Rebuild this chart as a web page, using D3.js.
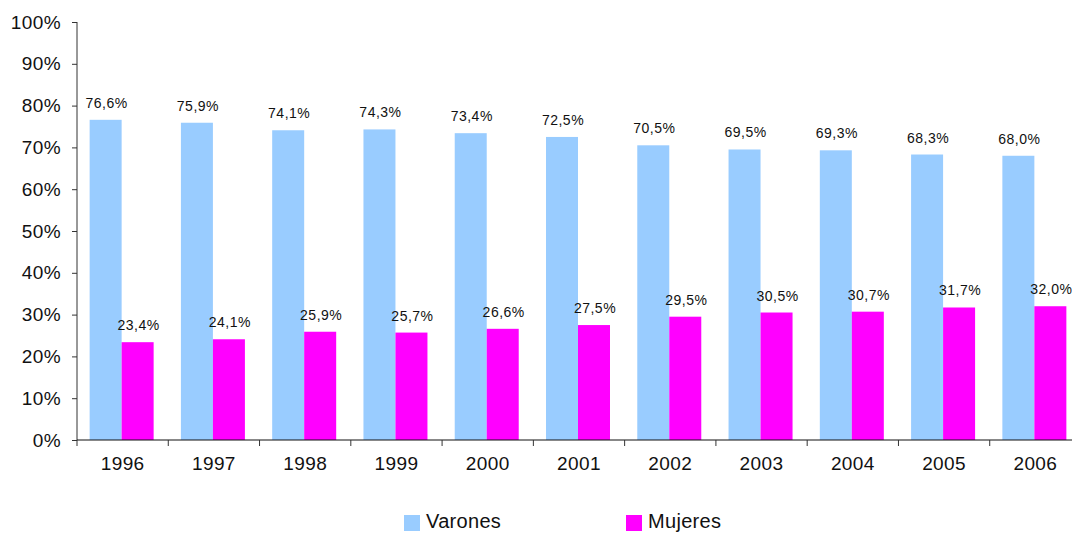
<!DOCTYPE html>
<html>
<head>
<meta charset="utf-8">
<script src="https://cdn.jsdelivr.net/npm/d3@7"></script>
<style>
  body { margin: 0; background: #fff; }
  text { font-family: "Liberation Sans", Arial, sans-serif; fill: #111; }
</style>
</head>
<body>
<div class="chart"></div>
<script>
var years = ["1996", "1997", "1998", "1999", "2000", "2001", "2002", "2003", "2004", "2005", "2006"];
var varones = [76.6, 75.9, 74.1, 74.3, 73.4, 72.5, 70.5, 69.5, 69.3, 68.3, 68.0];
var mujeres = [23.4, 24.1, 25.9, 25.7, 26.6, 27.5, 29.5, 30.5, 30.7, 31.7, 32.0];
var yTicks = [0, 10, 20, 30, 40, 50, 60, 70, 80, 90, 100];
var seriesNames = ["Varones", "Mujeres"];
var seriesColors = ["#99CCFF", "#FF00FF"];

var svgWidth = 1072;
var svgHeight = 533;

var margin = { top: 22, right: -9, bottom: 93, left: 77 };
var width = svgWidth - margin.left - margin.right;
var height = svgHeight - margin.top - margin.bottom;

var svg = d3.select(".chart")
    .append("svg")
    .attr("width", svgWidth)
    .attr("height", svgHeight);

var chartGroup = svg.append("g")
    .attr("transform", `translate(${margin.left}, ${margin.top})`);

var locale = d3.formatLocale({ decimal: ",", thousands: ".", grouping: [3], currency: ["", "€"] });
var fmt = locale.format(".1f");

// scales
var xScale = d3.scaleBand()
    .domain(years)
    .range([0, width]);

var xInner = d3.scaleBand()
    .domain(seriesNames)
    .range([0, 64]);

var yScale = d3.scaleLinear()
    .domain([0, 100])
    .range([height, 0]);

// y axis
var leftAxis = d3.axisLeft(yScale)
    .tickValues(yTicks)
    .tickSize(5)
    .tickPadding(11)
    .tickFormat(d => d + "%");

var yAxis = chartGroup.append("g").call(leftAxis);
yAxis.select(".domain").attr("stroke", "#333").attr("d", `M0,${height}V0`);
yAxis.selectAll(".tick line").attr("stroke", "#333");
yAxis.selectAll("text")
    .style("font-size", "19px")
    .style("letter-spacing", "0.4px")
    .attr("fill", "#111");

// bars
var data = years.map((y, i) => ({ year: y, vals: [varones[i], mujeres[i]] }));
var offset = (xScale.bandwidth() - 64) / 2 - 1;

var groups = chartGroup.selectAll(".grp")
    .data(data)
    .enter()
    .append("g")
    .attr("transform", d => `translate(${xScale(d.year) + offset},0)`);

groups.selectAll("rect")
    .data(d => d.vals.map((v, k) => ({ name: seriesNames[k], value: v, k: k })))
    .enter()
    .append("rect")
    .attr("x", d => xInner(d.name))
    .attr("y", d => yScale(d.value))
    .attr("width", xInner.bandwidth())
    .attr("height", d => height - yScale(d.value))
    .attr("fill", d => seriesColors[d.k]);

groups.selectAll(".lbl")
    .data(d => d.vals.map((v, k) => ({ name: seriesNames[k], value: v, k: k })))
    .enter()
    .append("text")
    .attr("x", d => xInner(d.name) + xInner.bandwidth() / 2 + 1)
    .attr("y", d => yScale(d.value) - 12)
    .attr("text-anchor", "middle")
    .style("font-size", "14px")
    .style("letter-spacing", "0.5px")
    .text(d => fmt(d.value) + "%");

// x axis
var bottomAxis = d3.axisBottom(xScale)
    .tickSize(0)
    .tickPadding(17);

var xAxis = chartGroup.append("g")
    .attr("transform", `translate(0,${height})`)
    .call(bottomAxis);
xAxis.select(".domain").attr("stroke", "#111").attr("d", `M0,0H${width}`);
xAxis.selectAll("text")
    .style("font-size", "19px")
    .style("letter-spacing", "0.4px")
    .attr("fill", "#111");

// category separator ticks
xAxis.selectAll(".sep")
    .data(years)
    .enter()
    .append("line")
    .attr("x1", d => xScale(d))
    .attr("x2", d => xScale(d))
    .attr("y1", 0)
    .attr("y2", 6)
    .attr("stroke", "#333");

// legend
var legendX = [404, 626];
var legend = svg.append("g");
seriesNames.forEach(function (name, i) {
    legend.append("rect")
        .attr("x", legendX[i])
        .attr("y", 515)
        .attr("width", 16)
        .attr("height", 16)
        .attr("fill", seriesColors[i]);
    legend.append("text")
        .attr("x", legendX[i] + 22)
        .attr("y", 528)
        .style("font-size", "20px")
        .style("letter-spacing", "0.3px")
        .text(name);
});
</script>
</body>
</html>
